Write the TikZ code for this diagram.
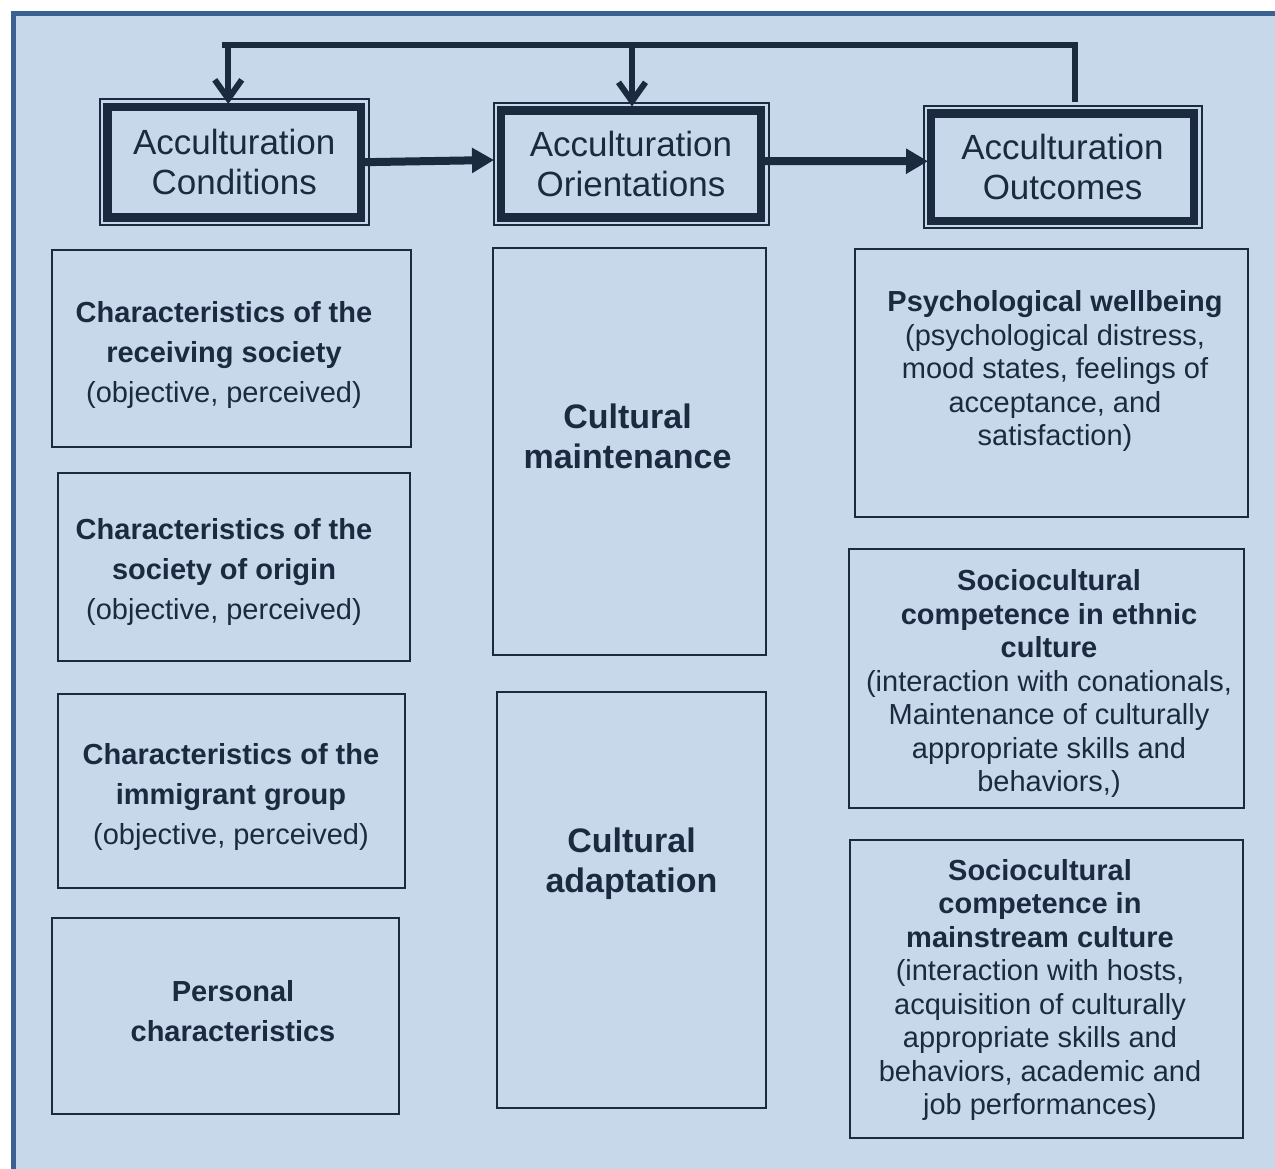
\documentclass[tikz,border=0pt]{standalone}
\usepackage{fontspec}
\setmainfont{Liberation Sans}
\usepackage{xcolor}
\usepackage{tikz}
\usetikzlibrary{calc,arrows.meta}
\definecolor{panelx}{HTML}{C8D8EB}
\definecolor{framex}{HTML}{3B6192}
\definecolor{navyx}{HTML}{1C2A3F}
\tikzset{
  hdr/.style={draw=navyx,line width=8.5pt,align=center,text=navyx,inner sep=0pt,outer sep=0pt,
    font=\fontsize{35}{40}\selectfont},
  hdrline/.style={draw=navyx,line width=2pt},
  cbox/.style={draw=navyx,line width=2.5pt,inner sep=0pt,outer sep=0pt},
  ltxt/.style={align=center,text=navyx,font=\fontsize{29}{40}\selectfont},
  rtxt/.style={align=center,text=navyx,font=\fontsize{29}{33.5}\selectfont},
  mtxt/.style={align=center,text=navyx,font=\bfseries\fontsize{34}{40}\selectfont},
  fwd/.style={-{Triangle[length=22pt,width=24pt]},line width=8pt,navyx},
  fb/.style={line width=6pt,navyx},
  fbar/.style={fb,-{Straight Barb[length=19pt,width=27pt]}}
}

\begin{document}
\begin{tikzpicture}[x=1pt,y=-1pt]
\clip (0,0) rectangle (1275,1169);
\fill[white] (0,0) rectangle (1275,1169);
\fill[panelx] (13,14) rectangle (1300,1200);
\draw[framex,line width=5pt] (13,14) rectangle (1300,1200);
% header boxes
\node[hdr,minimum width=253.5pt,minimum height=110.5pt] (cond) at (234.25,162.25) {Acculturation\\Conditions};
\node[hdr,minimum width=260pt,minimum height=107pt] (orient) at (631,164) {Acculturation\\Orientations};
\node[hdr,minimum width=263pt,minimum height=107.5pt] (outc) at (1062.5,167.25) {Acculturation\\Outcomes};
\foreach \n in {cond,orient,outc}
  \draw[hdrline] ([shift={(-7.5,-7.5)}]\n.north west) rectangle ([shift={(7.5,7.5)}]\n.south east);
% forward arrows
\draw[fwd] (cond.east) -- ([xshift=-7pt,yshift=4pt]orient.west);
\draw[fwd] ([yshift=3pt]orient.east) -- ([xshift=-3pt,yshift=6pt]outc.west);
% feedback loop
\coordinate (fbL) at (222,45);
\draw[fb] ([xshift=12pt,yshift=11.5pt]outc.north) |- (fbL);
\draw[fbar] ([xshift=-6pt]cond.north |- fbL) -- ([xshift=-6pt,yshift=3pt]cond.north);
\draw[fbar] ([xshift=1pt]orient.north |- fbL) -- ([xshift=1pt,yshift=4pt]orient.north);
% conditions
\node[cbox,minimum width=359pt,minimum height=197pt] (recv) at (231.5,348.5) {};
\node[cbox,minimum width=352pt,minimum height=188pt] (orig) at (234,567) {};
\node[cbox,minimum width=347pt,minimum height=194pt] (immig) at (231.5,791) {};
\node[cbox,minimum width=347pt,minimum height=196pt] (pers) at (225.5,1016) {};
\node[ltxt] (recvtxt) at (224,355) {\textbf{Characteristics of the}\\\textbf{receiving society}\\(objective, perceived)};
\node[ltxt] (origtxt) at (224,572) {\textbf{Characteristics of the}\\\textbf{society of origin}\\(objective, perceived)};
\node[ltxt] (immigtxt) at (231,797) {\textbf{Characteristics of the}\\\textbf{immigrant group}\\(objective, perceived)};
\node[ltxt,font=\bfseries\fontsize{29}{40}\selectfont] (perstxt) at (233,1011) {Personal\\characteristics};
% orientations
\node[cbox,minimum width=273pt,minimum height=407pt] (maint) at (629.5,451.5) {};
\node[cbox,minimum width=269pt,minimum height=416pt] (adapt) at (631.5,900) {};
\node[mtxt] (mainttxt) at (627.5,436) {Cultural\\maintenance};
\node[mtxt] (adapttxt) at (631.5,863.5) {Cultural\\adaptation};
% outcomes
\node[cbox,minimum width=393pt,minimum height=268pt] (psych) at (1051.5,383) {};
\node[cbox,minimum width=395pt,minimum height=259pt] (ethn) at (1046.5,678.5) {};
\node[cbox,minimum width=393pt,minimum height=298pt] (mstr) at (1046.5,989) {};
\node[rtxt] (psychtxt) at (1055,371) {\textbf{Psychological wellbeing}\\(psychological distress,\\mood states, feelings of\\acceptance, and\\satisfaction)};
\node[rtxt] (ethntxt) at (1049,683.5) {\textbf{Sociocultural}\\\textbf{competence in ethnic}\\\textbf{culture}\\(interaction with conationals,\\Maintenance of culturally\\appropriate skills and\\behaviors,)};
\node[rtxt] (mstrtxt) at (1040,990) {\textbf{Sociocultural}\\\textbf{competence in}\\\textbf{mainstream culture}\\(interaction with hosts,\\acquisition of culturally\\appropriate skills and\\behaviors, academic and\\job performances)};
\end{tikzpicture}
\end{document}
